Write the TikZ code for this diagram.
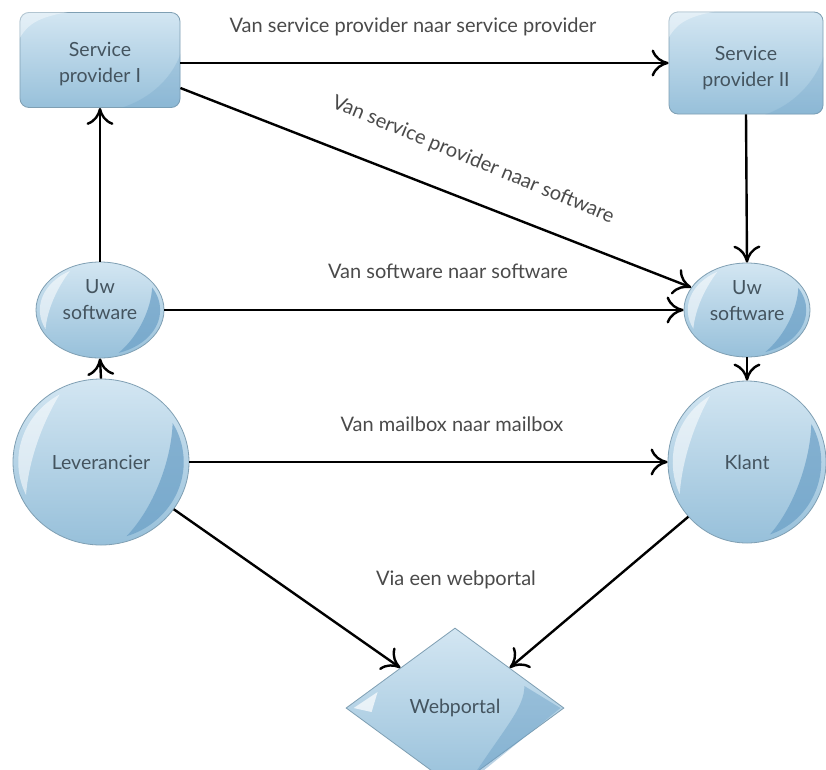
\documentclass[tikz,border=0pt]{standalone}
\usepackage{fontspec}
\setmainfont{Lato}
\usetikzlibrary{arrows.meta,shapes.geometric,calc}

\definecolor{nodetop}{HTML}{D3E6F2}
\definecolor{nodebot}{HTML}{97C0DA}
\definecolor{nodeline}{HTML}{7F9FB3}
\definecolor{nodetext}{HTML}{44545F}
\definecolor{moonblue}{HTML}{6A9FC6}
\definecolor{labeltext}{HTML}{4A4A4A}

\tikzset{
  glossy/.style={shade, top color=nodetop, bottom color=nodebot, draw=nodeline,
    line width=0.8pt, inner sep=0pt},
  spbox/.style={glossy, rectangle, rounded corners=9pt},
  bubble/.style={glossy, ellipse},
  portal/.style={glossy, diamond},
  caption/.style={text=nodetext, font=\fontsize{19.5}{26}\selectfont, align=center, inner sep=0pt},
  moonfill/.style={fill=moonblue, fill opacity=0.7},
  shinefill/.style={fill=white, fill opacity=0.55},
  flow/.style={line width=2.4pt, -{Computer Modern Rightarrow[length=17pt,width=27pt]}},
  lbl/.style={text=labeltext, font=\fontsize{20}{24}\selectfont}
}

% darker crescent on the right-hand side of a round node, light sliver on the left
\newcommand\nodemoon[3]{%
  \begin{scope}[shift={(#1)}]
    \pgfmathsetmacro\ma{0.94*#2}\pgfmathsetmacro\mb{0.94*#3}
    \fill[moonfill] (30:\ma pt and \mb pt)
      arc[start angle=30, end angle=-72, x radius=\ma pt, y radius=\mb pt]
      .. controls ({0.6*#2},{-0.55*#3}) and ({0.8*#2},{0.02*#3}) .. (30:\ma pt and \mb pt) -- cycle;
    \fill[shinefill] (120:\ma pt and \mb pt)
      arc[start angle=120, end angle=205, x radius=\ma pt, y radius=\mb pt]
      .. controls ({-0.82*#2},{0.05*#3}) and ({-0.65*#2},{0.5*#3}) .. (120:\ma pt and \mb pt) -- cycle;
  \end{scope}}

\begin{document}
\begin{tikzpicture}[x=1pt, y=1pt]
  \useasboundingbox[fill=white] (0,0) rectangle (826,-769);
  \clip (0,0) rectangle (826,-769);

  % node shapes
  \node[spbox, minimum width=160, minimum height=95] (sp1) at (100,-60) {};
  \node[spbox, minimum width=154, minimum height=102] (sp2) at (746,-63) {};
  \node[bubble, minimum width=128, minimum height=96] (uw1) at (100,-310) {};
  \node[bubble, minimum width=126, minimum height=94] (uw2) at (747,-310) {};
  \node[bubble, minimum width=176, minimum height=166] (lev) at (101,-462) {};
  \node[bubble, minimum width=158, minimum height=162] (klant) at (747,-462) {};
  \node[portal, minimum width=218, minimum height=160] (wp) at (455,-708) {};

  % shading accents on the round nodes
  \nodemoon{uw1}{64}{48}
  \nodemoon{uw2}{63}{47}
  \nodemoon{lev}{88}{83}
  \nodemoon{klant}{79}{81}

  % accents on the provider boxes
  \foreach \b in {sp1,sp2}{
    \begin{scope}
      \clip[rounded corners=9pt] (\b.south west) rectangle (\b.north east);
      \fill[moonfill, fill opacity=0.25] ($(\b.east)+(2,12)$) .. controls ($(\b.east)+(-10,-30)$) and ($(\b.south)+(30,-2)$) .. ($(\b.south)+(0,-4)$) -- ($(\b.south east)+(4,-4)$) -- cycle;
      \fill[shinefill, fill opacity=0.4] ($(\b.north west)+(-2,-30)$) .. controls ($(\b.north west)+(8,-10)$) and ($(\b.north west)+(20,-4)$) .. ($(\b.north)+(-20,2)$) -- ($(\b.north west)+(-2,2)$) -- cycle;
    \end{scope}}

  % accents on the portal
  \fill[moonfill, fill opacity=0.45] ($(wp.east)+(-40,22)$) -- ($(wp.east)+(-4,0)$) -- ($(wp.south)+(14,6)$) .. controls ($(wp.east)+(-60,-20)$) and ($(wp.east)+(-40,0)$) .. cycle;
  \fill[shinefill, fill opacity=0.7] ($(wp.west)+(8,0)$) -- ($(wp.west)+(32,16)$) -- ($(wp.west)+(26,-4)$) -- cycle;

  % node captions
  \node[caption] (sp1t) at ([yshift=-4pt]sp1.center) {Service\\provider I};
  \node[caption] (sp2t) at ([yshift=-5pt]sp2.center) {Service\\provider II};
  \node[caption] (uw1t) at ([yshift=10pt]uw1.center) {Uw\\software};
  \node[caption] (uw2t) at ([yshift=9pt]uw2.center) {Uw\\software};
  \node[caption] (levt) at (lev.center) {Leverancier};
  \node[caption] (klantt) at (klant.center) {Klant};
  \node[caption] (wpt) at (wp.center) {Webportal};

  % connectors
  \draw[flow] (sp1.east |- 0,-63) -- (sp2.west |- 0,-63);
  \draw[flow] ([yshift=-28pt]sp1.east) -- (uw2.158);
  \draw[flow] (sp2.south) -- (uw2.north);
  \draw[flow] (uw1.east) -- (uw2.west);
  \draw[flow] (uw1.north) -- (sp1.south);
  \draw[flow] (lev.north) -- (uw1.south);
  \draw[flow] (uw2.south) -- (klant.north);
  \draw[flow] (lev.east) -- (klant.west);
  \draw[flow] (lev.-33) -- (wp.north west);
  \draw[flow] (klant.-137) -- (wp.north east);

  % connector labels
  \node[lbl] (l1) at (413,-27) {Van service provider naar service provider};
  \node[lbl, rotate=-22.5] (l2) at (473,-160) {Van service provider naar software};
  \node[lbl] (l3) at (448,-271) {Van software naar software};
  \node[lbl] (l4) at (452,-424) {Van mailbox naar mailbox};
  \node[lbl] (l5) at (456,-580) {Via een webportal};
\end{tikzpicture}
\end{document}
